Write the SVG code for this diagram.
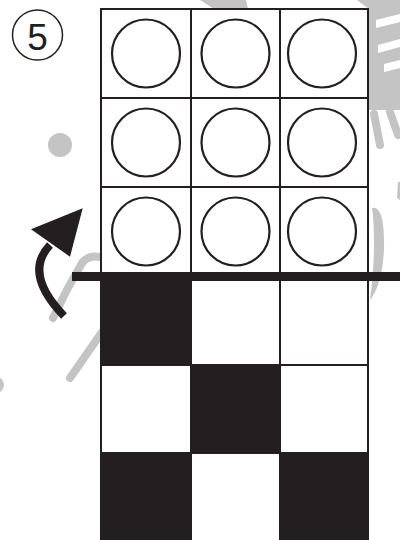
<svg xmlns="http://www.w3.org/2000/svg" width="400" height="540" viewBox="0 0 400 540">
<style>
.wm{fill:#c4c4c4;stroke:none}
.wms{fill:none;stroke:#c4c4c4;stroke-width:8;stroke-linecap:round}
.cell{fill:#fff;stroke:#231f20;stroke-width:2}
.blk{fill:#231f20;stroke:#231f20;stroke-width:2}
.ring{fill:none;stroke:#231f20;stroke-width:2.2}
</style>
<rect width="400" height="540" fill="#fff"/>
<g id="watermark">
<circle class="wm" cx="60" cy="145" r="12"/>
<polygon class="wm" points="200,0 246,0 248,9 214,9"/>
<polygon class="wm" points="357,0 400,0 400,110 369,110 369,9"/>
<polygon fill="#fff" points="376,20 400,14 400,22 376,28"/>
<polygon fill="#fff" points="378,45 400,39 400,47 378,53"/>
<polygon fill="#fff" points="384,64 400,60 400,68 384,72"/>
<path class="wms" d="M374 114 L380 145"/>
<path class="wms" d="M390 112 L398 135"/>
<path class="wm" d="M372 208 Q385 205 384 250 Q382 285 370 300 Q374 270 374 245 Q374 220 372 208 Z"/>
<path class="wm" d="M398 182 L400 182 L400 200 L397 198 Z"/>
<path class="wms" d="M100 257 Q88 255 82 263 Q66 290 53 318"/>
<path class="wms" d="M102 332 L70 378"/>
<circle class="wm" cx="-4" cy="385" r="8"/>
</g>
<g id="grid">
<rect class="cell" x="101" y="9" width="90" height="89"/>
<rect class="cell" x="191" y="9" width="89" height="89"/>
<rect class="cell" x="280" y="9" width="88" height="89"/>
<rect class="cell" x="101" y="98" width="90" height="89"/>
<rect class="cell" x="191" y="98" width="89" height="89"/>
<rect class="cell" x="280" y="98" width="88" height="89"/>
<rect class="cell" x="101" y="187" width="90" height="89"/>
<rect class="cell" x="191" y="187" width="89" height="89"/>
<rect class="cell" x="280" y="187" width="88" height="89"/>
<rect class="blk" x="101" y="276" width="90" height="89"/>
<rect class="cell" x="191" y="276" width="89" height="89"/>
<rect class="cell" x="280" y="276" width="88" height="89"/>
<rect class="cell" x="101" y="365" width="90" height="88"/>
<rect class="blk" x="191" y="365" width="89" height="88"/>
<rect class="cell" x="280" y="365" width="88" height="88"/>
<rect class="blk" x="101" y="453" width="90" height="90"/>
<rect class="cell" x="191" y="453" width="89" height="90"/>
<rect class="blk" x="280" y="453" width="88" height="90"/>
</g>
<g id="circles">
<circle class="ring" cx="146" cy="53.5" r="34"/>
<circle class="ring" cx="235.5" cy="53.5" r="34"/>
<circle class="ring" cx="322" cy="53.5" r="34"/>
<circle class="ring" cx="146" cy="142.5" r="34"/>
<circle class="ring" cx="235.5" cy="142.5" r="34"/>
<circle class="ring" cx="322" cy="142.5" r="34"/>
<circle class="ring" cx="146" cy="231.5" r="34"/>
<circle class="ring" cx="235.5" cy="231.5" r="34"/>
<circle class="ring" cx="322" cy="231.5" r="34"/>
</g>
<g id="fold-line">
<rect x="72" y="272" width="328" height="9" fill="#231f20"/>
</g>
<g id="connectors">
<path d="M64 316 Q23 273.5 50 245" fill="none" stroke="#231f20" stroke-width="8"/>
<polygon points="31,229.3 82.7,208.3 70,256.7" fill="#231f20"/>
</g>
<g id="label">
<circle cx="37.5" cy="35" r="25" fill="none" stroke="#231f20" stroke-width="1.5"/>
<text x="37.5" y="50" font-family="Liberation Sans, sans-serif" font-size="37" text-anchor="middle" fill="#231f20">5</text>
</g>
</svg>
